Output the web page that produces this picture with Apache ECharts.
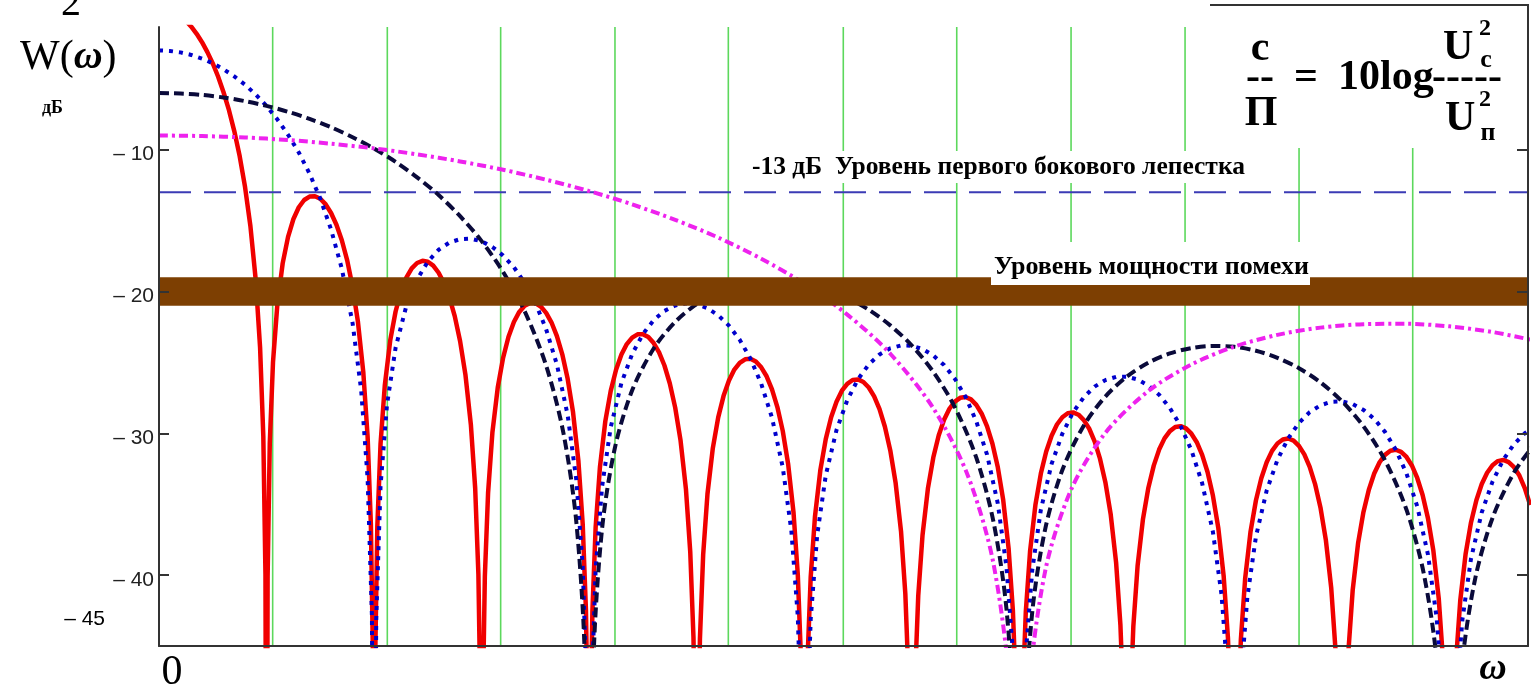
<!DOCTYPE html>
<html><head><meta charset="utf-8">
<script src="https://cdn.jsdelivr.net/npm/echarts@6/dist/echarts.min.js"></script>
<style>html,body{margin:0;padding:0;background:#fff}#c{width:1537px;height:692px}</style>
</head><body><div id="c"></div>
<script>
// ---- axis extents and ticks ----
const xMin = 0, xMax = 12.73;
const yMin = -45, yMax = -1.35;
const yTicks = [-40, -30, -20, -10];
const yMinLabel = '\u2013 45';
// vertical green reference lines (x positions)
const greenLines = [1.057, 2.123, 3.177, 4.24, 5.294, 6.363, 7.418, 8.481, 9.541, 10.601, 11.658];
const sidelobeLevel = -13;
const noiseBand = [-19, -21];
const labelSidelobe = '-13 дБ  Уровень первого бокового лепестка';
const labelNoise = 'Уровень мощности помехи';

// ---- curves: [ω, W(ω) dB] ----
const redPts = [
[0,0],[0.05,-0.04],[0.1,-0.14],[0.15,-0.32],[0.2,-0.58],[0.25,-0.91],[0.3,-1.33],[0.35,-1.83],[0.4,-2.42],[0.45,-3.12],[0.5,-3.92],[0.55,-4.86],[0.6,-5.95],[0.65,-7.2],[0.7,-8.69],[0.75,-10.45],[0.8,-12.63],[0.85,-15.39],[0.9,-19.23],[0.94,-23.96],[0.97,-30.21],[0.99,-39.92],[1,-70],
[1.01,-40.09],[1.03,-30.73],[1.06,-25],[1.1,-20.97],[1.15,-18.02],[1.2,-16.15],[1.25,-14.89],[1.3,-14.06],[1.35,-13.55],[1.4,-13.31],[1.45,-13.28],[1.5,-13.46],[1.55,-13.86],[1.6,-14.47],[1.65,-15.29],[1.7,-16.39],[1.75,-17.81],[1.8,-19.67],[1.85,-22.15],[1.9,-25.72],[1.94,-30.25],[1.97,-36.36],[1.99,-45.98],[2,-70],
[2.01,-46.07],[2.03,-36.62],[2.06,-30.77],[2.1,-26.59],[2.15,-23.45],[2.2,-21.41],[2.25,-20],[2.3,-19.02],[2.35,-18.37],[2.4,-17.99],[2.45,-17.84],[2.5,-17.9],[2.55,-18.18],[2.6,-18.68],[2.65,-19.41],[2.7,-20.41],[2.75,-21.74],[2.8,-23.51],[2.85,-25.9],[2.9,-29.39],[2.94,-33.86],[2.97,-39.93],[2.99,-49.52],[3,-70],
[3.01,-49.57],[3.03,-40.1],[3.06,-34.21],[3.1,-29.97],[3.15,-26.77],[3.2,-24.67],[3.25,-23.19],[3.3,-22.15],[3.35,-21.44],[3.4,-21.01],[3.45,-20.81],[3.5,-20.82],[3.55,-21.06],[3.6,-21.51],[3.65,-22.19],[3.7,-23.15],[3.75,-24.43],[3.8,-26.16],[3.85,-28.51],[3.9,-31.96],[3.94,-36.4],[3.97,-42.45],[3.99,-52.02],[4,-70],
[4.01,-52.07],[4.03,-42.58],[4.06,-36.66],[4.1,-32.4],[4.15,-29.16],[4.2,-27.03],[4.25,-25.52],[4.3,-24.45],[4.35,-23.71],[4.4,-23.25],[4.45,-23.02],[4.5,-23.01],[4.55,-23.21],[4.6,-23.64],[4.65,-24.29],[4.7,-25.22],[4.75,-26.49],[4.8,-28.19],[4.85,-30.52],[4.9,-33.95],[4.94,-38.37],[4.97,-44.4],[4.99,-53.97],[5,-70],
[5.01,-54],[5.03,-44.5],[5.06,-38.58],[5.1,-34.29],[5.15,-31.04],[5.2,-28.88],[5.25,-27.36],[5.3,-26.27],[5.35,-25.51],[5.4,-25.03],[5.45,-24.78],[5.5,-24.75],[5.55,-24.94],[5.6,-25.35],[5.65,-25.98],[5.7,-26.9],[5.75,-28.15],[5.8,-29.83],[5.85,-32.15],[5.9,-35.56],[5.94,-39.97],[5.97,-45.99],[5.99,-55.55],[6,-70],
[6.01,-55.58],[6.03,-46.08],[6.06,-40.14],[6.1,-35.85],[6.15,-32.58],[6.2,-30.41],[6.25,-28.87],[6.3,-27.77],[6.35,-27],[6.4,-26.51],[6.45,-26.24],[6.5,-26.2],[6.55,-26.38],[6.6,-26.77],[6.65,-27.4],[6.7,-28.3],[6.75,-29.54],[6.8,-31.21],[6.85,-33.52],[6.9,-36.92],[6.94,-41.32],[6.97,-47.34],[6.99,-56.89],[7,-70],
[7.01,-56.92],[7.03,-47.41],[7.06,-41.47],[7.1,-37.17],[7.15,-33.89],[7.2,-31.71],[7.25,-30.16],[7.3,-29.05],[7.35,-28.27],[7.4,-27.77],[7.45,-27.5],[7.5,-27.44],[7.55,-27.61],[7.6,-28],[7.65,-28.62],[7.7,-29.51],[7.75,-30.74],[7.8,-32.4],[7.85,-34.7],[7.9,-38.1],[7.94,-42.49],[7.97,-48.5],[7.99,-58.05],[8,-70],
[8.01,-58.08],[8.03,-48.57],[8.06,-42.62],[8.1,-38.31],[8.15,-35.03],[8.2,-32.84],[8.25,-31.28],[8.3,-30.17],[8.35,-29.38],[8.4,-28.87],[8.45,-28.59],[8.5,-28.53],[8.55,-28.69],[8.6,-29.07],[8.65,-29.68],[8.7,-30.57],[8.75,-31.79],[8.8,-33.45],[8.85,-35.74],[8.9,-39.13],[8.94,-43.52],[8.97,-49.53],[8.99,-59.08],[9,-70],
[9.01,-59.1],[9.03,-49.59],[9.06,-43.64],[9.1,-39.32],[9.15,-36.03],[9.2,-33.84],[9.25,-32.28],[9.3,-31.15],[9.35,-30.36],[9.4,-29.85],[9.45,-29.56],[9.5,-29.5],[9.55,-29.65],[9.6,-30.03],[9.65,-30.63],[9.7,-31.52],[9.75,-32.73],[9.8,-34.39],[9.85,-36.67],[9.9,-40.06],[9.94,-44.44],[9.97,-50.45],[9.99,-59.99],[10,-70],
[10.01,-60.01],[10.03,-50.5],[10.06,-44.55],[10.1,-40.23],[10.15,-36.93],[10.2,-34.74],[10.25,-33.17],[10.3,-32.04],[10.35,-31.24],[10.4,-30.72],[10.45,-30.44],[10.5,-30.37],[10.55,-30.52],[10.6,-30.89],[10.65,-31.49],[10.7,-32.37],[10.75,-33.58],[10.8,-35.23],[10.85,-37.51],[10.9,-40.89],[10.94,-45.27],[10.97,-51.28],[10.99,-60.82],[11,-70],
[11.01,-60.84],[11.03,-51.32],[11.06,-45.37],[11.1,-41.05],[11.15,-37.75],[11.2,-35.55],[11.25,-33.98],[11.3,-32.84],[11.35,-32.04],[11.4,-31.52],[11.45,-31.23],[11.5,-31.16],[11.55,-31.31],[11.6,-31.67],[11.65,-32.27],[11.7,-33.15],[11.75,-34.35],[11.8,-36],[11.85,-38.28],[11.9,-41.65],[11.94,-46.03],[11.97,-52.04],[11.99,-61.58],[12,-70],
[12.01,-61.59],[12.03,-52.08],[12.06,-46.12],[12.1,-41.8],[12.15,-38.5],[12.2,-36.29],[12.25,-34.72],[12.3,-33.58],[12.35,-32.78],[12.4,-32.25],[12.45,-31.96],[12.5,-31.88],[12.55,-32.03],[12.6,-32.39],[12.65,-32.98],[12.7,-33.86],[12.75,-35.06]
];
const bluePts = [
[0,-3],[0.1,-3.04],[0.2,-3.14],[0.3,-3.32],[0.4,-3.58],[0.5,-3.91],[0.6,-4.33],[0.7,-4.83],[0.8,-5.42],[0.9,-6.12],[1,-6.92],[1.1,-7.86],[1.2,-8.95],[1.3,-10.2],[1.4,-11.69],[1.5,-13.45],[1.6,-15.63],[1.7,-18.39],[1.8,-22.23],[1.88,-26.96],[1.94,-33.21],[1.98,-42.92],[2,-70],
[2.02,-43.09],[2.06,-33.73],[2.12,-28],[2.2,-23.97],[2.3,-21.02],[2.4,-19.15],[2.5,-17.89],[2.6,-17.06],[2.7,-16.55],[2.8,-16.31],[2.9,-16.28],[3,-16.46],[3.1,-16.86],[3.2,-17.47],[3.3,-18.29],[3.4,-19.39],[3.5,-20.81],[3.6,-22.67],[3.7,-25.15],[3.8,-28.72],[3.88,-33.25],[3.94,-39.36],[3.98,-48.98],[4,-70],
[4.02,-49.07],[4.06,-39.62],[4.12,-33.77],[4.2,-29.59],[4.3,-26.45],[4.4,-24.41],[4.5,-23],[4.6,-22.02],[4.7,-21.37],[4.8,-20.99],[4.9,-20.84],[5,-20.9],[5.1,-21.18],[5.2,-21.68],[5.3,-22.41],[5.4,-23.41],[5.5,-24.74],[5.6,-26.51],[5.7,-28.9],[5.8,-32.39],[5.88,-36.86],[5.94,-42.93],[5.98,-52.52],[6,-70],
[6.02,-52.57],[6.06,-43.1],[6.12,-37.21],[6.2,-32.97],[6.3,-29.77],[6.4,-27.67],[6.5,-26.19],[6.6,-25.15],[6.7,-24.44],[6.8,-24.01],[6.9,-23.81],[7,-23.82],[7.1,-24.06],[7.2,-24.51],[7.3,-25.19],[7.4,-26.15],[7.5,-27.43],[7.6,-29.16],[7.7,-31.51],[7.8,-34.96],[7.88,-39.4],[7.94,-45.45],[7.98,-55.02],[8,-70],
[8.02,-55.07],[8.06,-45.58],[8.12,-39.66],[8.2,-35.4],[8.3,-32.16],[8.4,-30.03],[8.5,-28.52],[8.6,-27.45],[8.7,-26.71],[8.8,-26.25],[8.9,-26.02],[9,-26.01],[9.1,-26.21],[9.2,-26.64],[9.3,-27.29],[9.4,-28.22],[9.5,-29.49],[9.6,-31.19],[9.7,-33.52],[9.8,-36.95],[9.88,-41.37],[9.94,-47.4],[9.98,-56.97],[10,-70],
[10.02,-57],[10.06,-47.5],[10.12,-41.58],[10.2,-37.29],[10.3,-34.04],[10.4,-31.88],[10.5,-30.36],[10.6,-29.27],[10.7,-28.51],[10.8,-28.03],[10.9,-27.78],[11,-27.75],[11.1,-27.94],[11.2,-28.35],[11.3,-28.98],[11.4,-29.9],[11.5,-31.15],[11.6,-32.83],[11.7,-35.15],[11.8,-38.56],[11.88,-42.97],[11.94,-48.99],[11.98,-58.55],[12,-70],
[12.02,-58.58],[12.06,-49.08],[12.12,-43.14],[12.2,-38.85],[12.3,-35.58],[12.4,-33.41],[12.5,-31.87],[12.6,-30.77],[12.7,-30],[12.8,-29.51]
];
const navyPts = [
[0,-6],[0.2,-6.04],[0.4,-6.14],[0.6,-6.32],[0.8,-6.58],[1,-6.91],[1.2,-7.33],[1.4,-7.83],[1.6,-8.42],[1.8,-9.12],[2,-9.92],[2.2,-10.86],[2.4,-11.95],[2.6,-13.2],[2.8,-14.69],[3,-16.45],[3.2,-18.63],[3.4,-21.39],[3.6,-25.23],[3.76,-29.96],[3.88,-36.21],[3.96,-45.92],[4,-70],
[4.04,-46.09],[4.12,-36.73],[4.24,-31],[4.4,-26.97],[4.6,-24.02],[4.8,-22.15],[5,-20.89],[5.2,-20.06],[5.4,-19.55],[5.6,-19.31],[5.8,-19.28],[6,-19.46],[6.2,-19.86],[6.4,-20.47],[6.6,-21.29],[6.8,-22.39],[7,-23.81],[7.2,-25.67],[7.4,-28.15],[7.6,-31.72],[7.76,-36.25],[7.88,-42.36],[7.96,-51.98],[8,-70],
[8.04,-52.07],[8.12,-42.62],[8.24,-36.77],[8.4,-32.59],[8.6,-29.45],[8.8,-27.41],[9,-26],[9.2,-25.02],[9.4,-24.37],[9.6,-23.99],[9.8,-23.84],[10,-23.9],[10.2,-24.18],[10.4,-24.68],[10.6,-25.41],[10.8,-26.41],[11,-27.74],[11.2,-29.51],[11.4,-31.9],[11.6,-35.39],[11.76,-39.86],[11.88,-45.93],[11.96,-55.52],[12,-70],
[12.04,-55.57],[12.12,-46.1],[12.24,-40.21],[12.4,-35.97],[12.6,-32.77],[12.8,-30.67]
];
const magentaPts = [
[0,-9],[0.4,-9.04],[0.8,-9.14],[1.2,-9.32],[1.6,-9.58],[2,-9.91],[2.4,-10.33],[2.8,-10.83],[3.2,-11.42],[3.6,-12.12],[4,-12.92],[4.4,-13.86],[4.8,-14.95],[5.2,-16.2],[5.6,-17.69],[6,-19.45],[6.4,-21.63],[6.8,-24.39],[7.2,-28.23],[7.52,-32.96],[7.76,-39.21],[7.92,-48.92],[8,-70],
[8.08,-49.09],[8.24,-39.73],[8.48,-34],[8.8,-29.97],[9.2,-27.02],[9.6,-25.15],[10,-23.89],[10.4,-23.06],[10.8,-22.55],[11.2,-22.31],[11.6,-22.28],[12,-22.46],[12.4,-22.86],[12.8,-23.47]
];

// ---- chart ----
const SERIF = '"Liberation Serif", "Times New Roman", serif';
const SANS = '"Liberation Sans", Arial, sans-serif';
function txt(text, x, y, font, align, z) {
  return {type: 'text', x: x, y: y, z: z || 100, silent: true,
    style: {text: text, font: font, fill: '#000', align: align || 'left', verticalAlign: 'middle',
            textAlign: align || 'left', textVerticalAlign: 'middle'}};
}
const axisLineStyle = {color: '#333', width: 2};
const chart = echarts.init(document.getElementById('c'), null, {renderer: 'canvas'});
const option = {
  animation: false,
  backgroundColor: '#fff',
  grid: {left: 159, right: 9, top: 27, bottom: 46, containLabel: false},
  xAxis: {type: 'value', min: xMin, max: xMax, z: 20,
    axisLine: {show: true, onZero: false, lineStyle: axisLineStyle},
    axisTick: {show: false}, axisLabel: {show: false}, splitLine: {show: false}},
  yAxis: [
    {type: 'value', min: yMin, max: yMax, position: 'left', z: 20,
     axisLine: {show: true, onZero: false, lineStyle: axisLineStyle},
     axisTick: {show: true, inside: true, length: 10, customValues: yTicks, lineStyle: {color: '#333', width: 2}},
     axisLabel: {show: true, customValues: yTicks,
       formatter: v => '{t|\u2013 ' + Math.abs(v) + '}',
       rich: {t: {fontFamily: SANS, fontSize: 21, color: '#222', padding: [10, 0, 0, 0]}},
       fontFamily: SANS, fontSize: 21, color: '#222', margin: 5},
     splitLine: {show: false}},
    {type: 'value', min: yMin, max: yMax, position: 'right', z: 20,
     axisLine: {show: true, onZero: false, lineStyle: axisLineStyle},
     axisTick: {show: true, inside: true, length: 11, customValues: yTicks, lineStyle: {color: '#333', width: 2}},
     axisLabel: {show: false}, splitLine: {show: false}}
  ],
  series: [
    {type: 'custom', name: 'green', z: 1, silent: true,
     data: greenLines.map(v => [v, yMin]),
     renderItem: function (params, api) {
       const a = api.coord([api.value(0), yMin]);
       const b = api.coord([api.value(0), yMax]);
       return {type: 'line', shape: {x1: a[0], y1: a[1], x2: b[0], y2: b[1]},
               style: {stroke: '#5cd85c', lineWidth: 1.6}};
     }},
    {type: 'line', name: 'sidelobe', z: 1, silent: true, symbol: 'none',
     data: [[xMin, sidelobeLevel], [xMax, sidelobeLevel]],
     lineStyle: {color: '#3b3bb5', width: 2, type: [32, 13]}},
    {type: 'line', name: 'red', z: 2, symbol: 'none', data: redPts,
     lineStyle: {color: '#f00000', width: 4.5}},
    {type: 'line', name: 'blue', z: 3, symbol: 'none', data: bluePts,
     lineStyle: {color: '#0000cc', width: 4, type: [4, 6], cap: 'butt'}},
    {type: 'line', name: 'navy', z: 4, symbol: 'none', smooth: 0.3, data: navyPts,
     lineStyle: {color: '#0a0a3a', width: 4, type: [10, 5]}},
    {type: 'line', name: 'magenta', z: 5, symbol: 'none', smooth: 0.3, data: magentaPts,
     lineStyle: {color: '#ee22ee', width: 4, type: [9, 4, 3, 4]}},
    {type: 'custom', name: 'noise', z: 10, silent: true,
     data: [[xMin, noiseBand[0], noiseBand[1]]],
     encode: {x: 0, y: [1, 2]},
     renderItem: function (params, api) {
       const a = api.coord([xMin, api.value(1)]);
       const b = api.coord([xMax, api.value(2)]);
       return {type: 'rect', shape: {x: a[0], y: a[1], width: b[0] - a[0], height: b[1] - a[1]},
               style: {fill: '#7d3f02'}};
     }}
  ],
  graphic: {elements: [
    // formula box
    {type: 'rect', z: 90, silent: true, shape: {x: 1210, y: 5, width: 318, height: 143}, style: {fill: '#fff'}},
    {type: 'polyline', z: 95, silent: true, shape: {points: [[1210, 5], [1528, 5], [1528, 148]]},
     style: {stroke: '#333', lineWidth: 2, fill: null}},
    // label backgrounds
    {type: 'rect', z: 90, silent: true, shape: {x: 748, y: 151, width: 504, height: 32}, style: {fill: '#fff'}},
    {type: 'rect', z: 90, silent: true, shape: {x: 991, y: 242, width: 319, height: 43}, style: {fill: '#fff'}},
    txt(labelSidelobe, 752, 167, 'bold 25.5px ' + SERIF),
    txt(labelNoise, 994, 267, 'bold 26px ' + SERIF),
    // y axis title
    txt('2', 71, 4, '40px ' + SERIF, 'center'),
    {type: 'text', x: 20, y: 58, z: 100, silent: true,
     style: {text: '{a|W(}{b|ω}{a|)}', fill: '#000', align: 'left', verticalAlign: 'middle',
             textAlign: 'left', textVerticalAlign: 'middle',
             rich: {a: {font: '42px ' + SERIF, fill: '#000'}, b: {font: 'italic bold 40px ' + SERIF, fill: '#000'}}}},
    txt('дБ', 42, 108, 'bold 18px ' + SERIF),
    txt(yMinLabel, 105, 619, '21px ' + SANS, 'right'),
    // x axis labels
    txt('0', 172, 673, '42px ' + SERIF, 'center'),
    txt('ω', 1493, 669, 'italic bold 38px ' + SERIF, 'center'),
    // formula
    txt('с', 1260, 49, 'bold 42px ' + SERIF, 'center'),
    txt('--', 1260, 78, 'bold 42px ' + SERIF, 'center'),
    txt('П', 1261, 114, 'bold 42px ' + SERIF, 'center'),
    txt('=', 1306, 78, 'bold 42px ' + SERIF, 'center'),
    txt('10log', 1338, 78, 'bold 42px ' + SERIF),
    txt('U', 1443, 48, 'bold 42px ' + SERIF),
    txt('2', 1485, 29, 'bold 24px ' + SERIF, 'center'),
    txt('с', 1486, 60, 'bold 26px ' + SERIF, 'center'),
    txt('-----', 1467, 78, 'bold 42px ' + SERIF, 'center'),
    txt('U', 1445, 119, 'bold 42px ' + SERIF),
    txt('2', 1485, 100, 'bold 24px ' + SERIF, 'center'),
    txt('п', 1488, 133, 'bold 26px ' + SERIF, 'center')
  ]}
};
chart.setOption(option);
</script>
</body></html>
